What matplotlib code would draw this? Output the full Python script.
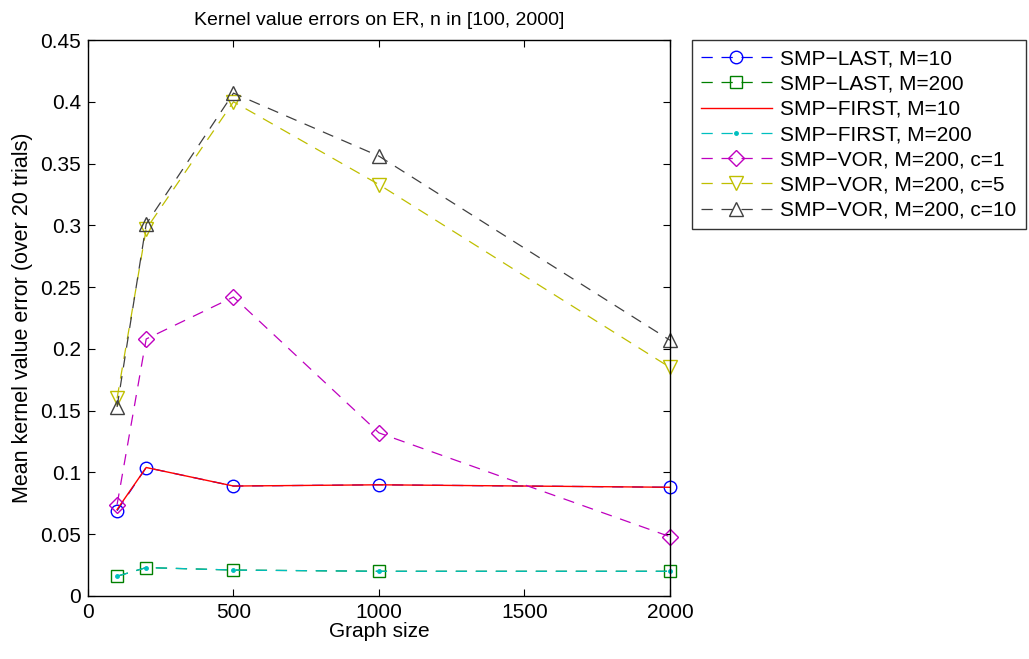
import matplotlib
matplotlib.use('Agg')
import numpy as np
import matplotlib.pyplot as plt

plt.rcParams['font.family'] = ['Liberation Sans', 'DejaVu Sans']

# Tamaños de grafo
sizes = [100, 200, 500, 1000, 2000]

# Errores medios
last_m10 = [0.069, 0.104, 0.089, 0.090, 0.088]
last_m200 = [0.016, 0.023, 0.021, 0.020, 0.020]
first_m10 = [0.070, 0.104, 0.089, 0.090, 0.088]
first_m200 = [0.016, 0.023, 0.021, 0.020, 0.020]
vor_c1 = [0.074, 0.208, 0.242, 0.132, 0.048]
vor_c5 = [0.160, 0.297, 0.400, 0.333, 0.185]
vor_c10 = [0.153, 0.301, 0.407, 0.356, 0.207]

labels = ['SMP\u2212LAST, M=10', 'SMP\u2212LAST, M=200', 'SMP\u2212FIRST, M=10',
          'SMP\u2212FIRST, M=200', 'SMP\u2212VOR, M=200, c=1',
          'SMP\u2212VOR, M=200, c=5', 'SMP\u2212VOR, M=200, c=10']

fig = plt.figure(figsize=(10.29, 6.59), dpi=100)
ax = fig.add_axes([0.0855, 0.0956, 0.5656, 0.8437])

dash = (0, (9, 7))
lw = 0.9
ax.plot(sizes, last_m10, linestyle=dash, color='b', marker='o', ms=9, mfc='none', lw=lw, label=labels[0], clip_on=False)
ax.plot(sizes, last_m200, linestyle=dash, color=(0, 0.5, 0), marker='s', ms=8, mfc='none', lw=lw, label=labels[1], clip_on=False)
ax.plot(sizes, first_m10, linestyle='-', color='r', lw=1.0, label=labels[2], clip_on=False)
ax.plot(sizes, first_m200, linestyle=dash, color=(0, 0.75, 0.75), marker='.', ms=5, lw=lw, label=labels[3], clip_on=False)
ax.plot(sizes, vor_c1, linestyle=dash, color=(0.75, 0, 0.75), marker='D', ms=8, mfc='none', lw=lw, label=labels[4], clip_on=False)
ax.plot(sizes, vor_c5, linestyle=dash, color=(0.75, 0.75, 0), marker='v', ms=10, mfc='none', lw=lw, label=labels[5], clip_on=False)
ax.plot(sizes, vor_c10, linestyle=dash, color=(0.25, 0.25, 0.25), marker='^', ms=10, mfc='none', lw=lw, label=labels[6], clip_on=False)

ax.set_xlim(0, 2000)
ax.set_ylim(0, 0.45)
ax.set_xticks([0, 500, 1000, 1500, 2000])
ax.set_yticks(np.arange(0, 0.451, 0.05))
ax.set_yticklabels(['0', '0.05', '0.1', '0.15', '0.2', '0.25', '0.3', '0.35', '0.4', '0.45'])
ax.tick_params(direction='in', top=True, right=True, labelsize=15, length=5, pad=5)
for s in ax.spines.values():
    s.set_linewidth(1.0)

ax.set_title('Kernel value errors on ER, n in [100, 2000]', fontsize=14, pad=11)
ax.set_xlabel('Graph size', fontsize=15, labelpad=0)
ax.set_ylabel('Mean kernel value error (over 20 trials)', fontsize=15.5, labelpad=5)

leg = ax.legend(loc='upper left', bbox_to_anchor=(1.037, 1.0), fontsize=15, frameon=True,
                fancybox=False, edgecolor='black', handlelength=3.4, borderaxespad=0,
                labelspacing=0.3, handletextpad=0.4, borderpad=0.45)
leg.get_frame().set_linewidth(1.0)

plt.savefig('out.png', dpi=100)
